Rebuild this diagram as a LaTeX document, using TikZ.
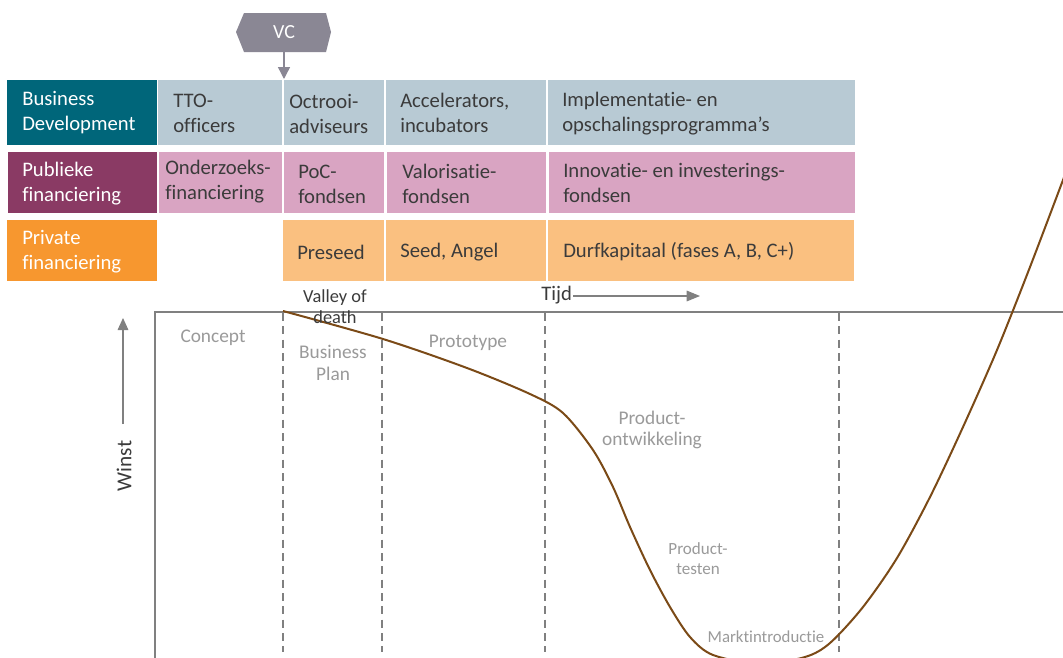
\documentclass[tikz,border=0pt]{standalone}
\usepackage{fontspec}
\setmainfont{Carlito}[Ligatures=NoCommon]
\usetikzlibrary{arrows.meta}
\definecolor{tealc}{HTML}{00667A}
\definecolor{bdcell}{HTML}{B8CAD4}
\definecolor{purc}{HTML}{8A3A64}
\definecolor{pinkc}{HTML}{D9A4C2}
\definecolor{orac}{HTML}{F7972F}
\definecolor{lorac}{HTML}{FAC080}
\definecolor{hexc}{HTML}{8A8794}
\definecolor{axisc}{HTML}{808080}
\definecolor{brownc}{HTML}{7B4A17}
\definecolor{graytxt}{HTML}{9A9A9A}
\definecolor{darktxt}{HTML}{3B3B3B}
\tikzset{
  labtxt/.style={anchor=west, inner sep=0pt, align=left, text=white, font=\fontsize{15.5}{18.75}\selectfont},
  celltxt/.style={anchor=west, inner sep=0pt, align=left, text=darktxt, font=\fontsize{15.5}{18.75}\selectfont},
  phase/.style={inner sep=0pt, align=center, text=graytxt, font=\fontsize{14.5}{16.3}\selectfont},
  dashline/.style={axisc, line width=1.5pt, dash pattern=on 6pt off 4pt},
}
\begin{document}
\begin{tikzpicture}[x=0.75pt,y=-0.75pt]
\useasboundingbox (0,0) rectangle (1063,657);
\fill[white] (0,0) rectangle (1063,657);
\begin{scope}
\clip (0,0) rectangle (1063,657);
% VC hexagon
\fill[hexc] (236,32) -- (244,13) -- (326,13) -- (331,32) -- (326,52) -- (244,52) -- cycle;
\node[text=white, font=\fontsize{15}{17}\selectfont, minimum height=29.25pt, inner sep=0pt] (vc) at (284,32.5) {VC};
\coordinate (vcend) at (284,79);
\draw[hexc, line width=1.1pt, -{Triangle[length=9pt,width=9pt]}] (vc.south) -- (vcend);

% Row 1
\fill[tealc] (7,80) rectangle (157,145);
\fill[bdcell] (158,80) rectangle (282,145);
\fill[bdcell] (284,80) rectangle (384,145);
\fill[bdcell] (386,80) rectangle (546,145);
\fill[bdcell] (548,80) rectangle (855,145);
\node[labtxt] (bd) at (22,113) {Business\\Development};
\node[celltxt] (tto) at (173,113) {TTO-\\officers};
\node[celltxt] (oct) at (289,114) {Octrooi-\\adviseurs};
\node[celltxt] (acc) at (400,113) {Accelerators,\\incubators};
\node[celltxt] (imp) at (562,114) {Implementatie- en\\opschalingsprogramma’s};

% Row 2
\fill[purc] (8,152) rectangle (157,213);
\fill[pinkc] (159,152) rectangle (282,213);
\fill[pinkc] (284,152) rectangle (384,213);
\fill[pinkc] (387,152) rectangle (546,213);
\fill[pinkc] (549,152) rectangle (855,213);
\node[labtxt] (pub) at (22,183.5) {Publieke\\financiering};
\node[celltxt] (ond) at (165,182) {Onderzoeks-\\financiering};
\node[celltxt] (poc) at (298,184) {PoC-\\fondsen};
\node[celltxt] (val) at (402,184) {Valorisatie-\\fondsen};
\node[celltxt] (inn) at (563,183) {Innovatie- en investerings-\\fondsen};

% Row 3
\fill[orac] (7,220) rectangle (157,281);
\fill[lorac] (283,220) rectangle (384,281);
\fill[lorac] (386,220) rectangle (546,281);
\fill[lorac] (548,220) rectangle (854,281);
\node[labtxt] (pri) at (22,252) {Private\\financiering};
\node[celltxt] (pre) at (297,252) {Preseed};
\node[celltxt] (seed) at (400,252) {Seed, Angel};
\node[celltxt] (durf) at (563,252) {Durfkapitaal (fases A, B, C+)};

% Chart axes
\draw[dashline] (283,313) -- (283,652);
\draw[dashline] (382,313) -- (382,652);
\draw[dashline] (545,313) -- (545,652);
\draw[dashline] (839,313) -- (839,652);
\draw[axisc, line width=2.2pt] (155,660) -- (155,312) -- (1063,312);

% Tijd arrow
\node[anchor=west, inner sep=0pt, text=darktxt, font=\fontsize{15.5}{18}\selectfont] (tijd) at (541,295) {Tijd};
\coordinate (tijdend) at (700,296);
\draw[axisc, line width=0.8pt, -{Triangle[length=10pt,width=8pt]}] (tijd.east) ++(1,1) -- (tijdend);

% Winst arrow
\coordinate (wstart) at (123,424);
\coordinate (wend) at (123,318);
\draw[axisc, line width=0.8pt, -{Triangle[length=9pt,width=8pt]}] (wstart) -- (wend);
\node[rotate=90, inner sep=0pt, text=darktxt, font=\fontsize{16}{18}\selectfont] (winst) at (124,466) {Winst};

% Curve
\draw[brownc, line width=1.5pt] plot[smooth, tension=0.5] coordinates {
 (283,311) (383,339) (467,368) (530,394) (563,413) (593,450) (613,487) (630,527) (650,570) (670,607) (690,637) (713,655) (760,664) (805,657) (830,643) (863,607) (897,558) (930,497) (963,427) (997,350) (1030,267) (1066,172)};

% Labels
\node[inner sep=0pt, align=center, text=darktxt, font=\fontsize{13.8}{15.8}\selectfont] (valley) at (335,307) {Valley of\\death};
\node[phase] (concept) at (213,338) {Concept};
\node[phase] (bplan) at (333,363) {Business\\Plan};
\node[phase] (proto) at (468,343) {Prototype};
\node[phase] (podev) at (652,430) {Product-\\ontwikkeling};
\node[phase, font=\fontsize{12.8}{15}\selectfont] (ptest) at (698,559) {Product-\\testen};
\node[phase, font=\fontsize{12.6}{14}\selectfont] (markt) at (766,637) {Marktintroductie};
\end{scope}
\end{tikzpicture}
\end{document}
